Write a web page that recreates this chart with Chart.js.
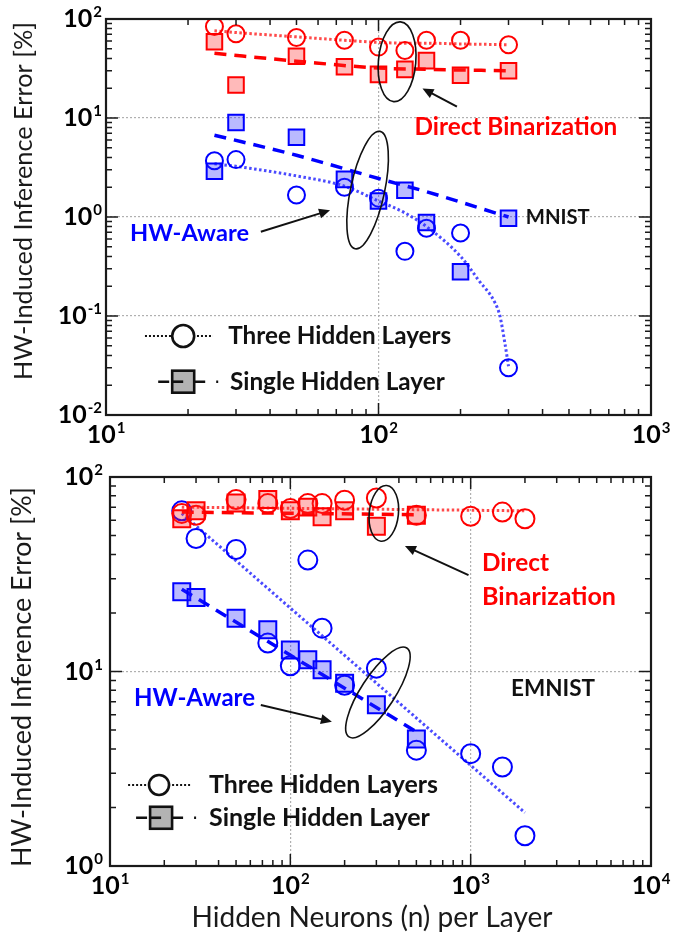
<!DOCTYPE html>
<html>
<head>
<meta charset="utf-8">
<script src="https://cdn.jsdelivr.net/npm/chart.js@4.4.1/dist/chart.umd.min.js"></script>
<style>
  body { margin: 0; background: #fff; }
  canvas { display: block; }
</style>
</head>
<body>
<canvas id="mnist" width="699" height="450"></canvas>
<canvas id="emnist" width="699" height="486"></canvas>
<script>
// ---- MNIST (top panel) ----
const mnistX = [25, 30, 50, 75, 100, 125, 150, 200, 300];
const mnistDirect3 = [84, 71, 65, 61, 52, 48, 61, 61, 55];
const mnistDirect1 = [59, 21.5, 42, 33, 27.6, 31, 38, 27, 30];
const mnistAware3 = [3.7, 3.8, 1.67, 2.0, 1.55, 0.45, 0.77, 0.69, 0.03];
const mnistAware1 = [2.9, 9.0, 6.4, 2.4, 1.45, 1.86, 0.88, 0.28, 0.97];
// fit lines
const mnistDirect3Fit = [76, 73, 66, 61, 58, 57, 57, 56, 55];
const mnistFit1X = [25, 50, 100, 150, 300];
const mnistDirect1Fit = [45, 37.5, 32, 31, 30];
const mnistAware1Fit = [6.7, 4.2, 2.45, 1.8, 1.0];
const mnistCurveX = [25, 30, 50, 75, 100, 125, 150, 200, 233, 268, 279, 291, 300];
const mnistAware3Fit = [3.45, 3.25, 2.6, 2.05, 1.45, 1.1, 0.8, 0.4, 0.23, 0.135, 0.1, 0.053, 0.031];

// ---- EMNIST (bottom panel) ----
const emnistX = [25, 30, 50, 75, 100, 125, 150, 200, 300, 500, 1000, 1500, 2000];
const emnistDirect3 = [65, 63.6, 76.6, 73, 68.8, 73, 73, 76, 78, 63.6, 62.8, 66, 61];
const emnistAware3 = [67, 48.3, 42.4, 14.0, 10.7, 37.4, 16.7, 8.5, 10.4, 3.94, 3.78, 3.23, 1.43];
const emnistSingleX = [25, 30, 50, 75, 100, 125, 150, 200, 300, 500];
const emnistDirect1 = [61, 67, 73.6, 76.6, 67, 70, 62.4, 67, 55.8, 63.6];
const emnistAware1 = [25.7, 24.0, 18.8, 16.4, 12.9, 11.5, 10.2, 8.7, 6.75, 4.5];
const emnistFit3X = [25, 2000];
const emnistDirect3Fit = [70, 67];
const emnistAware3Fit = [65, 1.88];
const emnistFit1X = [25, 500];
const emnistDirect1Fit = [66, 64];
const emnistAware1Fit = [26.5, 4.9];

const RED = '#ff0000', BLUE = '#0000ff';
const FONT = 'Lato, "Liberation Sans", sans-serif';

const pts = (xs, ys) => xs.map((x, i) => ({ x: x, y: ys[i] }));

function markers(xs, ys, color, style, r) {
  const square = style === 'rect';
  return {
    data: pts(xs, ys), showLine: false, pointStyle: style, pointRadius: r,
    pointBorderColor: color, pointBorderWidth: 2,
    pointBackgroundColor: square ? (color === RED ? 'rgba(255,40,40,0.32)' : 'rgba(40,40,255,0.32)') : 'rgba(0,0,0,0)'
  };
}
function fitLine(xs, ys, color, dotted) {
  return {
    data: pts(xs, ys), showLine: true, pointRadius: 0, borderColor: color,
    borderWidth: dotted ? 3 : 3.5, borderDash: dotted ? [2.5, 2.5] : [12, 8],
    borderCapStyle: 'butt', cubicInterpolationMode: 'monotone'
  };
}

function logTicks(min, max) {
  const out = [];
  for (let e = Math.round(Math.log10(min)); e < Math.round(Math.log10(max)); e++) {
    for (let m = 1; m < 10; m++) out.push({ v: m * Math.pow(10, e), major: m === 1 });
  }
  out.push({ v: max, major: true });
  return out;
}
function isDecade(v) {
  const l = Math.log10(v);
  return Math.abs(l - Math.round(l)) < 1e-9;
}
function fitFont(ctx, text, width, weight) {
  ctx.font = weight + ' 20px ' + FONT;
  const size = 20 * width / ctx.measureText(text).width;
  return weight + ' ' + size.toFixed(2) + 'px ' + FONT;
}
function powLabel(ctx, e, x, y, align) {
  const exp = String(e);
  ctx.font = 'bold 25px ' + FONT;
  const wb = ctx.measureText('10').width;
  ctx.font = 'bold 15px ' + FONT;
  const we = ctx.measureText(exp).width;
  const left = align === 'center' ? x - (wb + we + 1) / 2 : x - wb - we - 1;
  ctx.textAlign = 'left';
  ctx.textBaseline = 'alphabetic';
  ctx.font = 'bold 25px ' + FONT;
  ctx.fillText('10', left, y);
  ctx.font = 'bold 15px ' + FONT;
  ctx.fillText(exp, left + wb + 1, y - 10);
}

const decor = {
  id: 'decor',
  afterDraw(chart, args, o) {
    const ctx = chart.ctx, a = chart.chartArea, sx = chart.scales.x, sy = chart.scales.y;
    const X = v => sx.getPixelForValue(v), Y = v => sy.getPixelForValue(v);
    ctx.save();
    ctx.fillStyle = '#000';
    ctx.strokeStyle = '#1a1a1a';
    ctx.lineWidth = 1.5;
    ctx.beginPath();
    logTicks(sx.min, sx.max).forEach(t => {
      const p = X(t.v), len = t.major ? 12 : 6;
      ctx.moveTo(p, a.bottom); ctx.lineTo(p, a.bottom - len);
      ctx.moveTo(p, a.top); ctx.lineTo(p, a.top + len);
    });
    logTicks(sy.min, sy.max).forEach(t => {
      const p = Y(t.v), len = t.major ? 12 : 6;
      ctx.moveTo(a.left, p); ctx.lineTo(a.left + len, p);
      ctx.moveTo(a.right, p); ctx.lineTo(a.right - len, p);
    });
    ctx.stroke();
    ctx.lineWidth = 2.2;
    ctx.strokeRect(a.left, a.top, a.right - a.left, a.bottom - a.top);

    // tick labels
    for (let e = Math.round(Math.log10(sx.min)); e <= Math.round(Math.log10(sx.max)); e++) {
      powLabel(ctx, e, X(Math.pow(10, e)), a.bottom + 28, 'center');
    }
    for (let e = Math.round(Math.log10(sy.min)); e <= Math.round(Math.log10(sy.max)); e++) {
      powLabel(ctx, e, a.left - o.yLabelGap, Y(Math.pow(10, e)) + 8, 'right');
    }

    // axis titles
    const yt = 'HW-Induced Inference Error [%]';
    ctx.save();
    ctx.translate(o.yTitle.x, o.yTitle.y);
    ctx.rotate(-Math.PI / 2);
    ctx.font = fitFont(ctx, yt, o.yTitle.width, 'normal');
    ctx.textAlign = 'center'; ctx.textBaseline = 'middle';
    ctx.fillStyle = '#1a1a1a';
    ctx.fillText(yt, 0, 0);
    ctx.restore();
    if (o.xTitle) {
      const xt = 'Hidden Neurons (n) per Layer';
      ctx.font = fitFont(ctx, xt, o.xTitle.width, 'normal');
      ctx.textAlign = 'center'; ctx.textBaseline = 'middle';
      ctx.fillStyle = '#1a1a1a';
      ctx.fillText(xt, o.xTitle.x, o.xTitle.y);
    }

    // annotations
    o.notes.forEach(n => {
      ctx.save();
      if (n.type === 'ellipse') {
        ctx.strokeStyle = '#111'; ctx.lineWidth = 1.6;
        ctx.beginPath();
        ctx.ellipse(X(n.x), Y(n.y), n.rx, n.ry, n.rot * Math.PI / 180, 0, Math.PI * 2);
        ctx.stroke();
      } else if (n.type === 'arrow') {
        const x1 = X(n.x1), y1 = Y(n.y1), x2 = X(n.x2), y2 = Y(n.y2);
        const ang = Math.atan2(y2 - y1, x2 - x1);
        ctx.strokeStyle = '#111'; ctx.fillStyle = '#111'; ctx.lineWidth = 2;
        ctx.beginPath();
        ctx.moveTo(x1, y1);
        ctx.lineTo(x2 - 8 * Math.cos(ang), y2 - 8 * Math.sin(ang));
        ctx.stroke();
        ctx.beginPath();
        ctx.moveTo(x2, y2);
        ctx.lineTo(x2 - 11 * Math.cos(ang) + 5 * Math.sin(ang), y2 - 11 * Math.sin(ang) - 5 * Math.cos(ang));
        ctx.lineTo(x2 - 11 * Math.cos(ang) - 5 * Math.sin(ang), y2 - 11 * Math.sin(ang) + 5 * Math.cos(ang));
        ctx.closePath();
        ctx.fill();
      } else if (n.type === 'text') {
        ctx.font = fitFont(ctx, n.text, n.width, 'bold');
        ctx.fillStyle = n.color;
        ctx.textAlign = 'left'; ctx.textBaseline = 'middle';
        ctx.fillText(n.text, X(n.x), Y(n.y));
      } else if (n.type === 'key3') {
        const cx = X(n.cx), cy = Y(n.y);
        ctx.strokeStyle = '#111'; ctx.lineWidth = 2; ctx.setLineDash([2, 2]);
        ctx.beginPath(); ctx.moveTo(X(n.x1), cy); ctx.lineTo(X(n.x2), cy); ctx.stroke();
        ctx.setLineDash([]);
        ctx.fillStyle = '#fff'; ctx.lineWidth = 2.6;
        ctx.beginPath(); ctx.arc(cx, cy, n.r, 0, Math.PI * 2); ctx.fill(); ctx.stroke();
      } else if (n.type === 'key1') {
        const cx = X(n.cx), cy = Y(n.y), h = n.half;
        ctx.strokeStyle = '#111'; ctx.lineWidth = 2.6;
        ctx.beginPath();
        ctx.moveTo(cx - h - 14, cy); ctx.lineTo(cx - h - 3, cy);
        ctx.moveTo(cx + h, cy); ctx.lineTo(cx + h + 11, cy);
        ctx.moveTo(cx + h + 22, cy); ctx.lineTo(cx + h + 24, cy);
        ctx.stroke();
        ctx.fillStyle = '#b3b3b3';
        ctx.fillRect(cx - h, cy - h, 2 * h, 2 * h);
        ctx.strokeRect(cx - h, cy - h, 2 * h, 2 * h);
        ctx.beginPath(); ctx.moveTo(cx - h, cy); ctx.lineTo(cx, cy); ctx.stroke();
      }
      ctx.restore();
    });
    ctx.restore();
  }
};

function axis(min, max, vertical) {
  return {
    type: 'logarithmic', min: min, max: max,
    ticks: { display: false },
    grid: {
      drawTicks: false, lineWidth: 1.2,
      color: c => (c.tick && isDecade(c.tick.value) && c.tick.value > min && c.tick.value < max) ? '#b0b0b0' : 'rgba(0,0,0,0)'
    },
    border: { display: false, dash: [2, 2] },
    afterFit: s => { if (vertical) s.width = 0; else s.height = 0; }
  };
}

function makeChart(id, datasets, xMax, yMin, padding, decorOpts) {
  return new Chart(document.getElementById(id), {
    type: 'scatter',
    data: { datasets: datasets },
    options: {
      responsive: false, animation: false,
      layout: { padding: padding },
      plugins: { legend: { display: false }, tooltip: { enabled: false }, decor: decorOpts },
      scales: { x: axis(10, xMax, false), y: axis(yMin, 100, true) }
    },
    plugins: [decor]
  });
}

makeChart('mnist', [
  markers(mnistX, mnistDirect1, RED, 'rect', 11),
  markers(mnistX, mnistAware1, BLUE, 'rect', 11),
  markers(mnistX, mnistDirect3, RED, 'circle', 8.5),
  markers(mnistX, mnistAware3, BLUE, 'circle', 8.5),
  fitLine(mnistFit1X, mnistDirect1Fit, RED, false),
  fitLine(mnistFit1X, mnistAware1Fit, BLUE, false),
  fitLine(mnistX, mnistDirect3Fit, '#ff4a4a', true),
  fitLine(mnistCurveX, mnistAware3Fit, '#4a4aff', true)
], 1000, 0.01, { left: 106, right: 48, top: 19, bottom: 35 }, {
  yLabelGap: 4,
  yTitle: { x: 24, y: 201, width: 358 },
  notes: [
    { type: 'ellipse', x: 117, y: 37, rx: 18.7, ry: 40, rot: 5 },
    { type: 'arrow', x1: 194, y1: 13, x2: 145, y2: 19.9 },
    { type: 'text', text: 'Direct Binarization', x: 135.5, y: 8.1, width: 203, color: RED },
    { type: 'ellipse', x: 91.2, y: 1.87, rx: 17, ry: 60, rot: 12 },
    { type: 'arrow', x1: 37, y1: 0.71, x2: 66.4, y2: 1.17 },
    { type: 'text', text: 'HW-Aware', x: 12.25, y: 0.69, width: 119, color: BLUE },
    { type: 'text', text: 'MNIST', x: 347, y: 1.0, width: 64, color: '#111' },
    { type: 'key3', x1: 13.9, x2: 24.7, cx: 19.2, y: 0.0628, r: 11 },
    { type: 'text', text: 'Three Hidden Layers', x: 28.1, y: 0.0628, width: 223, color: '#111' },
    { type: 'key1', cx: 19.2, y: 0.0217, half: 11 },
    { type: 'text', text: 'Single Hidden Layer', x: 28.5, y: 0.0217, width: 215, color: '#111' }
  ]
});

makeChart('emnist', [
  markers(emnistSingleX, emnistDirect1, RED, 'rect', 12),
  markers(emnistSingleX, emnistAware1, BLUE, 'rect', 12),
  markers(emnistX, emnistDirect3, RED, 'circle', 9.5),
  markers(emnistX, emnistAware3, BLUE, 'circle', 9.5),
  fitLine(emnistFit1X, emnistDirect1Fit, RED, false),
  fitLine(emnistFit1X, emnistAware1Fit, BLUE, false),
  fitLine(emnistFit3X, emnistDirect3Fit, '#ff4a4a', true),
  fitLine(emnistFit3X, emnistAware3Fit, '#4a4aff', true)
], 10000, 1, { left: 110, right: 48, top: 27, bottom: 70 }, {
  yLabelGap: 7,
  yTitle: { x: 22, y: 227, width: 380 },
  xTitle: { x: 372, y: 468, width: 361 },
  notes: [
    { type: 'ellipse', x: 330, y: 65, rx: 14.6, ry: 28, rot: 6 },
    { type: 'arrow', x1: 973, y1: 31.3, x2: 432, y2: 44.2 },
    { type: 'text', text: 'Direct', x: 1156, y: 36.1, width: 67, color: RED },
    { type: 'text', text: 'Binarization', x: 1156, y: 24.2, width: 134, color: RED },
    { type: 'ellipse', x: 306, y: 7.8, rx: 17, ry: 53, rot: 33 },
    { type: 'arrow', x1: 68.6, y1: 6.73, x2: 170, y2: 5.52 },
    { type: 'text', text: 'HW-Aware', x: 13.6, y: 7.31, width: 121, color: BLUE },
    { type: 'text', text: 'EMNIST', x: 1675, y: 8.2, width: 84, color: '#111' },
    { type: 'key3', x1: 12.6, x2: 27.8, cx: 18.7, y: 2.61, r: 10 },
    { type: 'text', text: 'Three Hidden Layers', x: 35.4, y: 2.61, width: 229, color: '#111' },
    { type: 'key1', cx: 19.2, y: 1.77, half: 11 },
    { type: 'text', text: 'Single Hidden Layer', x: 35.4, y: 1.77, width: 221, color: '#111' }
  ]
});
</script>
</body>
</html>
